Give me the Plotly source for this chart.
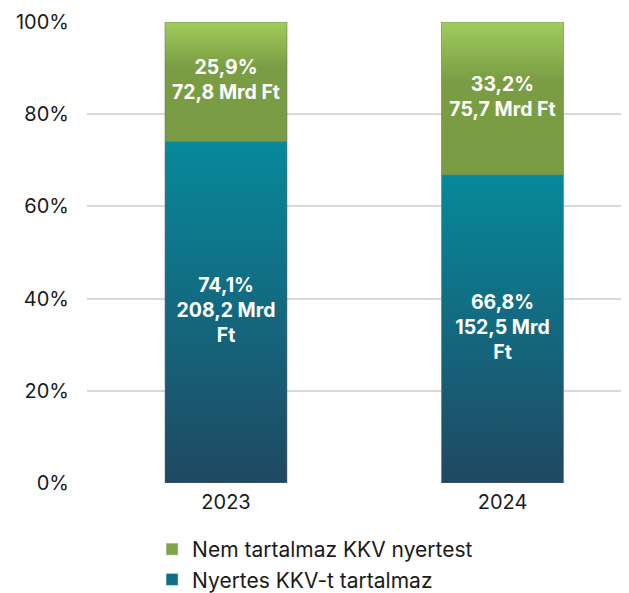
import plotly.graph_objects as go

years = ["2023", "2024"]
series_names = ["Nyertes KKV-t tartalmaz", "Nem tartalmaz KKV nyertest"]
share_kkv = [74.1, 66.8]
share_nem = [25.9, 33.2]
amount_kkv = ["208,2", "152,5"]
amount_nem = ["72,8", "75,7"]
y_ticks = [0, 20, 40, 60, 80, 100]

HALF = 0.2206
teal_scale = [[0, "#1f4862"], [1, "#07899b"]]
green_scale = [[0, "#789b43"], [0.62, "#7a9d44"], [1, "#a0cd5c"]]

fig = go.Figure()

def rect(i, y0, y1, scale, name):
    xs = [i - HALF, i + HALF, i + HALF, i - HALF, i - HALF]
    ys = [y0, y0, y1, y1, y0]
    fig.add_trace(go.Scatter(
        x=xs, y=ys, mode="lines", fill="toself",
        fillgradient=dict(type="vertical", colorscale=scale, start=y0, stop=y1),
        line=dict(color="rgba(110,110,110,0.55)", width=1),
        showlegend=False, hoverinfo="skip", name=name))

for i, y in enumerate(years):
    rect(i, 0, share_kkv[i], teal_scale, series_names[0])
    rect(i, share_kkv[i], share_kkv[i] + share_nem[i], green_scale, series_names[1])

def fmt(v):
    return f"{v:.1f}".replace(".", ",") + "%"

lab_kkv = [f"{fmt(share_kkv[i])}<br>{amount_kkv[i]} Mrd<br>Ft" for i in range(len(years))]
lab_nem = [f"{fmt(share_nem[i])}<br>{amount_nem[i]} Mrd Ft" for i in range(len(years))]

label_font = dict(color="white", size=19.5, family="Inter", weight="bold")
fig.add_trace(go.Scatter(
    x=list(range(len(years))), y=[v / 2 for v in share_kkv], mode="text",
    text=lab_kkv, textfont=label_font, showlegend=False, hoverinfo="skip"))
fig.add_trace(go.Scatter(
    x=list(range(len(years))), y=[share_kkv[i] + share_nem[i] / 2 for i in range(len(years))],
    mode="text", text=lab_nem, textfont=label_font, showlegend=False, hoverinfo="skip"))

# legend entries
fig.add_trace(go.Bar(x=[None], y=[None], name=series_names[1], marker=dict(color="#7fa549"), legendrank=1))
fig.add_trace(go.Bar(x=[None], y=[None], name=series_names[0], marker=dict(color="#0e6f86"), legendrank=2))

fig.update_layout(
    width=621, height=585,
    margin=dict(l=79, r=0, t=14, b=110, autoexpand=False),
    paper_bgcolor="white", plot_bgcolor="white",
    font=dict(family="Inter", size=20, color="#1a1a1a"),
    xaxis=dict(range=[-0.5027, 1.4575], tickvals=list(range(len(years))), ticktext=years,
               showgrid=False, zeroline=False, showline=False, ticks="",
               ticklabelstandoff=5,
               tickfont=dict(size=20, color="#1a1a1a"), fixedrange=True),
    yaxis=dict(range=[0, 100], tickvals=y_ticks, ticktext=[f"{t}%" for t in y_ticks],
               showgrid=True, gridcolor="#d9d9d9", gridwidth=1.5, zeroline=False,
               showline=False, ticks="", ticklabelstandoff=17,
               tickfont=dict(size=20, color="#1a1a1a"), fixedrange=True),
    legend=dict(orientation="v", xref="container", yref="container",
                x=0.232, xanchor="left", y=0.1094, yanchor="top",
                font=dict(size=21, color="#1a1a1a"), tracegroupgap=0,
                itemwidth=30, traceorder="normal"),
    showlegend=True,
)

fig.write_html("out.html")
